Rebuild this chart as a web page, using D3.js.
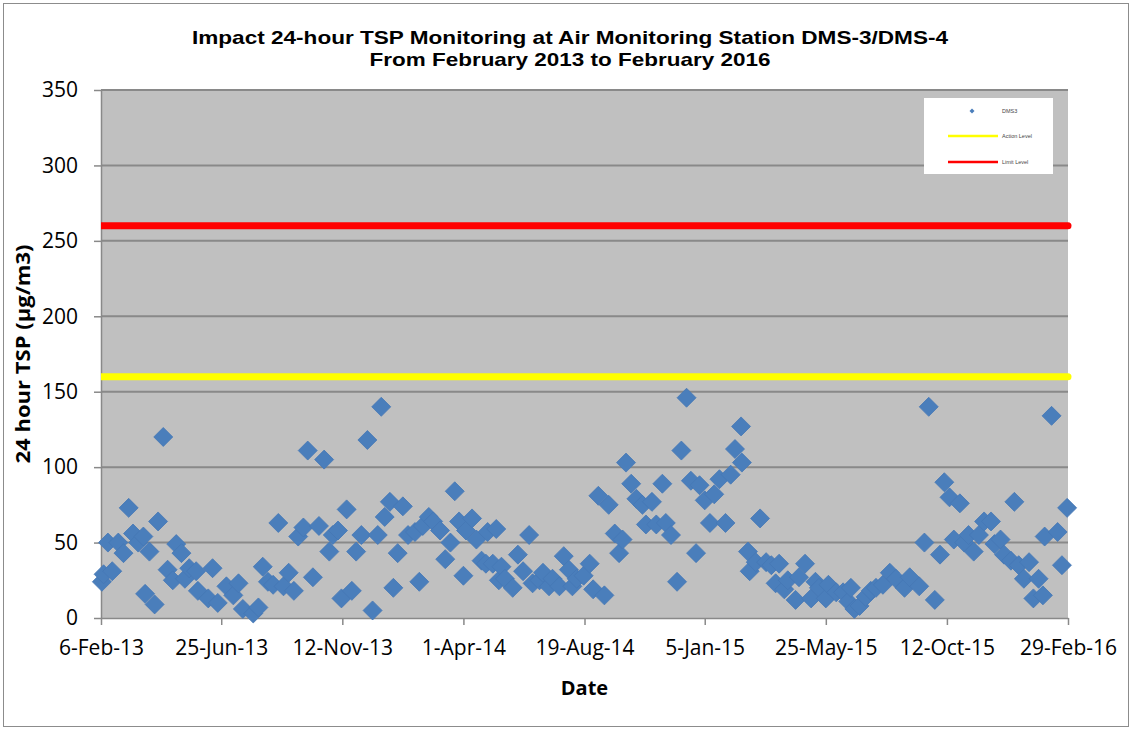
<!DOCTYPE html>
<html>
<head>
<meta charset="utf-8">
<script src="https://cdn.jsdelivr.net/npm/d3@7"></script>
<style>
  html, body { margin: 0; padding: 0; background: #ffffff; }
  svg { display: block; }
</style>
</head>
<body>
<svg id="chart" width="1133" height="729"></svg>
<script>
// 24-hour TSP samples at DMS-3 / DMS-4
const sampleDates = [
  "2013-02-07","2013-02-09","2013-02-14","2013-02-19","2013-02-26","2013-03-04","2013-03-10","2013-03-15",
  "2013-03-21","2013-03-27","2013-03-29","2013-04-03","2013-04-09","2013-04-13","2013-04-19","2013-04-24",
  "2013-04-30","2013-05-04","2013-05-10","2013-05-14","2013-05-19","2013-05-27","2013-05-29","2013-06-10",
  "2013-06-15","2013-06-21","2013-07-01","2013-07-09","2013-07-15","2013-07-20","2013-08-01","2013-08-07",
  "2013-08-12","2013-08-18","2013-08-24","2013-08-30","2013-09-05","2013-09-11","2013-09-17","2013-09-22",
  "2013-09-28","2013-10-03","2013-10-09","2013-10-16","2013-10-22","2013-10-28","2013-11-01","2013-11-07",
  "2013-11-11","2013-11-17","2013-11-23","2013-11-28","2013-12-04","2013-12-11","2013-12-17","2013-12-23",
  "2013-12-27","2013-12-31","2014-01-06","2014-01-10","2014-01-15","2014-01-21","2014-01-27","2014-02-04",
  "2014-02-09","2014-02-13","2014-02-20","2014-02-25","2014-03-05","2014-03-11","2014-03-17","2014-03-22",
  "2014-03-27","2014-04-01","2014-04-04","2014-04-11","2014-04-16","2014-04-22","2014-04-27","2014-04-29",
  "2014-05-05","2014-05-09","2014-05-12","2014-05-15","2014-05-19","2014-05-28","2014-06-03","2014-06-09",
  "2014-06-16","2014-06-20","2014-06-28","2014-07-02","2014-07-09","2014-07-13","2014-07-21","2014-07-26",
  "2014-08-01","2014-08-05","2014-08-10","2014-08-18","2014-08-25","2014-08-29","2014-09-04","2014-09-11",
  "2014-09-16","2014-09-23","2014-09-28","2014-10-02","2014-10-06","2014-10-12","2014-10-18","2014-10-25",
  "2014-10-29","2014-11-05","2014-11-10","2014-11-17","2014-11-21","2014-11-27","2014-12-04","2014-12-09",
  "2014-12-15","2014-12-20","2014-12-26","2014-12-30","2015-01-05","2015-01-11","2015-01-16","2015-01-22",
  "2015-01-29","2015-02-04","2015-02-09","2015-02-16","2015-02-17","2015-02-24","2015-02-26","2015-03-05",
  "2015-03-10","2015-03-17","2015-03-23","2015-03-28","2015-04-01","2015-04-07","2015-04-11","2015-04-20",
  "2015-04-24","2015-05-01","2015-05-08","2015-05-13","2015-05-17","2015-05-25","2015-05-28","2015-06-06",
  "2015-06-14","2015-06-20","2015-06-23","2015-06-27","2015-07-03","2015-07-10","2015-07-16","2015-07-22",
  "2015-07-30","2015-08-07","2015-08-14","2015-08-24","2015-08-30","2015-09-10","2015-09-16","2015-09-21",
  "2015-09-28","2015-10-04","2015-10-09","2015-10-15","2015-10-20","2015-10-27","2015-11-01","2015-11-06",
  "2015-11-12","2015-11-18","2015-11-24","2015-12-02","2015-12-06","2015-12-13","2015-12-17","2015-12-25",
  "2015-12-29","2016-01-03","2016-01-09","2016-01-15","2016-01-20","2016-01-26","2016-01-31","2016-02-02",
  "2016-02-10","2016-02-17","2016-02-22","2016-02-28"
];
const tspValues = [
  24, 29, 50, 31, 50, 43, 73, 56,
  50, 54, 16, 44, 9, 64, 120, 32,
  25, 49, 43, 26, 33, 31, 18, 13,
  33, 10, 21, 15, 23, 6, 3, 7,
  34, 24, 22, 63, 21, 30, 18, 54,
  60, 111, 27, 61, 105, 44, 55, 58,
  13, 72, 18, 44, 55, 118, 5, 55,
  140, 67, 77, 20, 43, 74, 55, 57,
  24, 61, 67, 64, 58, 39, 50, 84,
  64, 28, 58, 66, 52, 38, 36, 57,
  36, 59, 25, 34, 26, 20, 42, 31,
  55, 23, 25, 30, 21, 26, 21, 41,
  32, 21, 26, 28, 36, 19, 81, 15,
  75, 56, 43, 52, 103, 89, 79, 75,
  62, 77, 62, 89, 63, 55, 24, 111,
  146, 91, 43, 88, 78, 63, 82, 92,
  63, 95, 112, 127, 103, 44, 31, 37,
  66, 37, 35, 23, 36, 19, 25, 12,
  27, 36, 13, 24, 20, 13, 22, 17,
  17, 11, 20, 6, 8, 14, 18, 20,
  22, 30, 26, 20, 27, 21, 50, 140,
  12, 42, 90, 80, 52, 76, 50, 55,
  44, 55, 64, 64, 49, 52, 42, 38,
  77, 35, 26, 37, 13, 26, 15, 54,
  134, 57, 35, 73
];

const actionLevel = 160;
const limitLevel = 260;
const periodStart = "2013-02-06";
const periodEnd = "2016-02-29";

const yTicks = [0, 50, 100, 150, 200, 250, 300, 350];
const xTickDates = ["2013-02-06","2013-06-25","2013-11-12","2014-04-01","2014-08-19",
                    "2015-01-05","2015-05-25","2015-10-12","2016-02-29"];

const titleLines = ["Impact 24-hour TSP Monitoring at Air Monitoring Station DMS-3/DMS-4",
                    "From February 2013 to February 2016"];
const yTitle = "24 hour TSP (\u00b5g/m3)";
const xTitle = "Date";
const legendNames = ["DMS3", "Action Level", "Limit Level"];

// ---- layout & styling ----
const W = 1133, H = 729;
const plot = { left: 101, top: 90, right: 1068, bottom: 618 };
const bodyFont = "'Open Sans', Lato, sans-serif";
const titleFont = "'Liberation Sans', Arial, sans-serif";
const markerBlue = "#4a7ebb";
const gridGrey = "#898989";

const parse = d3.timeParse("%Y-%m-%d");
const points = sampleDates.map((d, i) => ({ date: parse(d), value: tspValues[i] }));

const svg = d3.select("#chart");

// outer chart frame
svg.append("rect")
  .attr("x", 3.5).attr("y", 3.5)
  .attr("width", W - 8).attr("height", H - 6)
  .attr("fill", "#ffffff")
  .attr("stroke", "#8c8c8c").attr("stroke-width", 1);

const x = d3.scaleTime()
  .domain([parse(periodStart), parse(periodEnd)])
  .range([plot.left, plot.right]);

const y = d3.scaleLinear()
  .domain([0, 350])
  .range([plot.bottom, plot.top]);

// plot background
svg.append("rect")
  .attr("x", plot.left).attr("y", plot.top)
  .attr("width", plot.right - plot.left).attr("height", plot.bottom - plot.top)
  .attr("fill", "#c0c0c0");

// horizontal gridlines
svg.append("g")
  .selectAll("line")
  .data(yTicks.filter(t => t > 0))
  .join("line")
  .attr("x1", plot.left).attr("x2", plot.right)
  .attr("y1", d => y(d)).attr("y2", d => y(d))
  .attr("stroke", gridGrey).attr("stroke-width", 2);

// y axis
const yAxis = svg.append("g")
  .attr("transform", `translate(${plot.left},0)`)
  .call(d3.axisLeft(y).tickValues(yTicks).tickSize(7).tickPadding(16).tickSizeOuter(0));
yAxis.select(".domain").attr("stroke", gridGrey).attr("stroke-width", 1.5);
yAxis.selectAll(".tick line").attr("stroke", gridGrey).attr("stroke-width", 1.5);
yAxis.selectAll(".tick text")
  .attr("font-family", bodyFont).attr("font-size", 21).attr("fill", "#000");

// x axis
const fmt = d3.timeFormat("%-d-%b-%y");
const xAxis = svg.append("g")
  .attr("transform", `translate(0,${plot.bottom})`)
  .call(d3.axisBottom(x).tickValues(xTickDates.map(parse)).tickFormat(fmt)
        .tickSize(7).tickPadding(15).tickSizeOuter(0));
xAxis.select(".domain").attr("stroke", gridGrey).attr("stroke-width", 1.5);
xAxis.selectAll(".tick line").attr("stroke", gridGrey).attr("stroke-width", 1.5);
xAxis.selectAll(".tick text")
  .attr("font-family", bodyFont).attr("font-size", 21).attr("fill", "#000");

// clip so criterion lines start at the plot edge
svg.append("clipPath").attr("id", "levelClip")
  .append("rect")
  .attr("x", plot.left).attr("y", 0)
  .attr("width", plot.right - plot.left + 10).attr("height", H);

const levels = [
  { value: actionLevel, color: "#ffff00" },
  { value: limitLevel, color: "#ff0000" }
];
svg.append("g").attr("clip-path", "url(#levelClip)")
  .selectAll("line")
  .data(levels)
  .join("line")
  .attr("x1", x(parse(periodStart))).attr("x2", x(parse(periodEnd)))
  .attr("y1", d => y(d.value)).attr("y2", d => y(d.value))
  .attr("stroke", d => d.color).attr("stroke-width", 7)
  .attr("stroke-linecap", "round");

// diamond markers
const diamond = r => `M0,${-r}L${r},0L0,${r}L${-r},0Z`;
svg.append("g")
  .selectAll("path")
  .data(points)
  .join("path")
  .attr("transform", d => `translate(${x(d.date)},${y(d.value)})`)
  .attr("d", diamond(9.5))
  .attr("fill", markerBlue)
  .attr("stroke", "#4577b5").attr("stroke-width", 0.8);

// titles
const title = svg.append("text")
  .attr("text-anchor", "middle")
  .attr("font-family", titleFont).attr("font-weight", "bold")
  .attr("font-size", 19).attr("fill", "#000");
title.append("tspan").attr("x", 570).attr("y", 44)
  .attr("textLength", 756).attr("lengthAdjust", "spacingAndGlyphs").text(titleLines[0]);
title.append("tspan").attr("x", 570).attr("y", 66)
  .attr("textLength", 401).attr("lengthAdjust", "spacingAndGlyphs").text(titleLines[1]);

svg.append("text")
  .attr("transform", `translate(30,${(plot.top + plot.bottom) / 2}) rotate(-90)`)
  .attr("text-anchor", "middle")
  .attr("font-family", bodyFont).attr("font-weight", "bold")
  .attr("font-size", 20).attr("fill", "#000")
  .attr("textLength", 219).attr("lengthAdjust", "spacingAndGlyphs")
  .text(yTitle);

svg.append("text")
  .attr("x", (plot.left + plot.right) / 2).attr("y", 695)
  .attr("text-anchor", "middle")
  .attr("font-family", bodyFont).attr("font-weight", "bold")
  .attr("font-size", 20).attr("fill", "#000")
  .text(xTitle);

// legend
const legend = svg.append("g").attr("transform", "translate(924,98)");
legend.append("rect")
  .attr("width", 129).attr("height", 76)
  .attr("fill", "#ffffff");
const legendRows = [
  { name: legendNames[0], kind: "marker", color: markerBlue, dy: 13 },
  { name: legendNames[1], kind: "line", color: "#ffff00", dy: 38 },
  { name: legendNames[2], kind: "line", color: "#ff0000", dy: 64 }
];
legendRows.forEach(r => {
  if (r.kind === "marker") {
    legend.append("path")
      .attr("transform", `translate(48,${r.dy})`)
      .attr("d", diamond(2.5)).attr("fill", r.color);
  } else {
    legend.append("line")
      .attr("x1", 24).attr("x2", 74)
      .attr("y1", r.dy).attr("y2", r.dy)
      .attr("stroke", r.color).attr("stroke-width", 2.5);
  }
  legend.append("text")
    .attr("x", 78).attr("y", r.dy + 2)
    .attr("font-family", "'Liberation Sans', Arial, sans-serif")
    .attr("font-size", 5.5).attr("fill", "#444")
    .text(r.name);
});
</script>
</body>
</html>
